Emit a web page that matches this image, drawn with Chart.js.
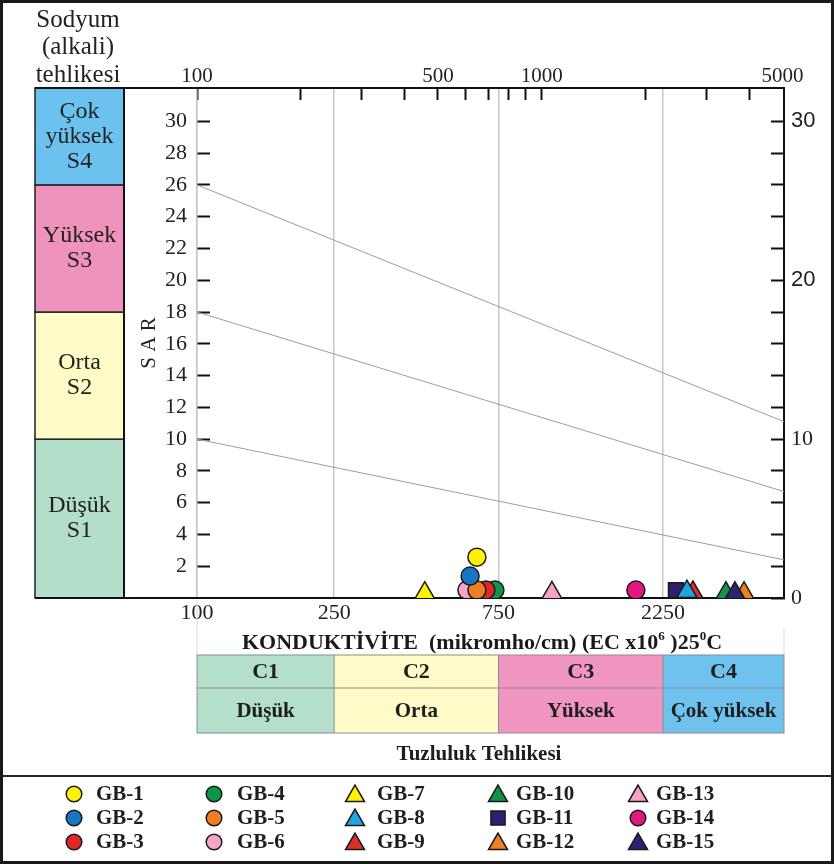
<!DOCTYPE html>
<html><head><meta charset="utf-8">
<script src="https://cdn.jsdelivr.net/npm/chart.js@4.4.1/dist/chart.umd.min.js"></script>
<style>html,body{margin:0;padding:0;background:#fff}canvas{display:block}</style>
</head><body>
<canvas id="c" width="834" height="864"></canvas>
<script>
// ---------------- data ----------------
const SAMPLES = ['GB-1','GB-2','GB-3','GB-4','GB-5','GB-6','GB-7','GB-8','GB-9','GB-10','GB-11','GB-12','GB-13','GB-14','GB-15'];
const EC  = [649, 620, 689, 732, 649, 607, 458, 2640, 2748, 3425, 2453, 3866, 1071, 1877, 3638];
const SAR = [2.57, 1.38, 0.5, 0.5, 0.5, 0.5, 0.3, 0.4, 0.35, 0.3, 0.5, 0.3, 0.32, 0.5, 0.3];

const BOUNDARY_EC = [100, 5050];
const BOUNDARY_S4_S3 = [26, 11.1];
const BOUNDARY_S3_S2 = [18, 6.7];
const BOUNDARY_S2_S1 = [10, 2.4];

const BOTTOM_TICKS = [100, 250, 750, 2250];
const TOP_TICKS = [100, 200, 300, 400, 500, 600, 700, 800, 900, 1000, 2000, 3000, 4000, 5000];
const TOP_LABELS = [100, 500, 1000, 5000];
const SAR_TICKS = [2, 4, 6, 8, 10, 12, 14, 16, 18, 20, 22, 24, 26, 28, 30];
const RIGHT_TICKS = [0, 2, 4, 6, 8, 10, 12, 14, 16, 18, 20, 22, 24, 26, 28, 30];
const RIGHT_LABELS = [0, 10, 20, 30];

const S_LIMITS = [0, 10, 18, 26, 32.1];
const S_TEXT = [['Düşük', 'S1'], ['Orta', 'S2'], ['Yüksek', 'S3'], ['Çok', 'yüksek', 'S4']];
const C_LIMITS = [100, 250, 750, 2250, 5050];
const C_CODES = ['C1', 'C2', 'C3', 'C4'];
const C_NAMES = ['Düşük', 'Orta', 'Yüksek', 'Çok yüksek'];
const X_TITLE = [['KONDUKTİVİTE  (mikromho/cm) (EC x10', false], ['6', true], [' )25', false], ['0', true], ['C', false]];

// ---------------- styles ----------------
const SERIF = '"Liberation Serif", "Times New Roman", Times, serif';
const SANS = '"Liberation Sans", Arial, Helvetica, sans-serif';
const MARKERS = ['circle','circle','circle','circle','circle','circle','triangle','triangle','triangle','triangle','rect','triangle','triangle','circle','triangle'];
const COLORS = ['#fff200','#1677c2','#e1262b','#0f9448','#ef7d22','#f5a5c8','#fff200','#22a4e0','#d8302b','#14924b','#2b2170','#ef7f23','#f3a3c5','#e2177f','#2b2373'];
const ORDERS = [0,0,1,1,0,0,0,0,0,0,0,0,0,0,-1];
const PLOT_RADIUS = {circle: 9, triangle: 11.5, rect: 10.5};
const LEGEND_RADIUS = {circle: 7.8, triangle: 11, rect: 10};
const S_COLORS = ['#b3dec9', '#fefbc6', '#ef93bd', '#6cc2ee'];
const C_COLORS = ['#b4dfca', '#fefbc8', '#f196c0', '#6fc2ee'];
const LAY = {
  W: 834, H: 864, sboxLeft: 35, frameLeft: 124,
  titleX: 482, titleY: 641,
  tableTop: 655, tableMid: 688, tableBottom: 733,
  hazardY: 755, sepY: 776,
  legendRows: [794, 818, 842], legendMarkX: [74, 214, 355, 498, 638], legendTextX: [96, 237, 377, 516, 656]
};

// ---------------- datasets ----------------
const datasets = [];
SAMPLES.forEach((name, i) => {
  datasets.push({
    label: name,
    data: [{x: EC[i], y: SAR[i]}],
    pointStyle: MARKERS[i],
    pointRadius: PLOT_RADIUS[MARKERS[i]],
    pointHoverRadius: PLOT_RADIUS[MARKERS[i]],
    backgroundColor: COLORS[i],
    borderColor: '#1a1a1a',
    borderWidth: 1.5,
    pointBorderWidth: 1.5,
    order: ORDERS[i],
    showLine: false
  });
});
[BOUNDARY_S4_S3, BOUNDARY_S3_S2, BOUNDARY_S2_S1].forEach((b, k) => {
  datasets.push({
    label: 'boundary' + k,
    data: BOUNDARY_EC.map((x, j) => ({x, y: b[j]})),
    showLine: true, pointRadius: 0, borderColor: '#9d9d9d', borderWidth: 1, order: 10, fill: false
  });
});

// ---------------- decoration plugin ----------------
function line(ctx, x1, y1, x2, y2) { ctx.beginPath(); ctx.moveTo(x1, y1); ctx.lineTo(x2, y2); ctx.stroke(); }

const decor = {
  id: 'decor',
  beforeDraw(chart) {
    const ctx = chart.ctx, ys = chart.scales.y;
    ctx.save();
    ctx.fillStyle = '#fff';
    ctx.fillRect(0, 0, LAY.W, LAY.H);
    for (let i = 0; i < 4; i++) {
      const yb = ys.getPixelForValue(S_LIMITS[i]);
      const yt = ys.getPixelForValue(S_LIMITS[i + 1]);
      ctx.fillStyle = S_COLORS[i];
      ctx.fillRect(LAY.sboxLeft, yt, LAY.frameLeft - LAY.sboxLeft, yb - yt);
      ctx.strokeStyle = '#222'; ctx.lineWidth = 1.5;
      ctx.strokeRect(LAY.sboxLeft, yt, LAY.frameLeft - LAY.sboxLeft, yb - yt);
      const lines = S_TEXT[i];
      const cx = (LAY.sboxLeft + LAY.frameLeft) / 2, cy = (yt + yb) / 2;
      ctx.fillStyle = '#222';
      ctx.font = '24px ' + SERIF;
      ctx.textAlign = 'center'; ctx.textBaseline = 'middle';
      const lh = 25;
      lines.forEach((t, j) => ctx.fillText(t, cx, cy + (j - (lines.length - 1) / 2) * lh));
    }
    ctx.restore();
  },
  beforeDatasetsDraw(chart) {
    const ctx = chart.ctx, a = chart.chartArea;
    ctx.save();
    ctx.strokeStyle = '#111'; ctx.lineWidth = 2;
    line(ctx, LAY.sboxLeft, a.top, a.right, a.top);
    line(ctx, LAY.sboxLeft, a.bottom, a.right, a.bottom);
    line(ctx, LAY.frameLeft, a.top, LAY.frameLeft, a.bottom);
    line(ctx, a.right, a.top, a.right, a.bottom);
    ctx.restore();
  },
  afterDraw(chart) {
    const ctx = chart.ctx, xs = chart.scales.x, a = chart.chartArea;
    ctx.save();
    ctx.fillStyle = '#222'; ctx.font = '25px ' + SERIF;
    ctx.textAlign = 'center'; ctx.textBaseline = 'middle';
    ['Sodyum', '(alkali)', 'tehlikesi'].forEach((t, j) => ctx.fillText(t, 78, 20 + j * 27.5));

    // x-axis title with superscripts
    const mainF = 'bold 22px ' + SERIF, supF = 'bold 13px ' + SERIF;
    let total = 0;
    X_TITLE.forEach(([t, sup]) => { ctx.font = sup ? supF : mainF; total += ctx.measureText(t).width; });
    let tx = LAY.titleX - total / 2;
    ctx.textAlign = 'left'; ctx.textBaseline = 'alphabetic'; ctx.fillStyle = '#1a1a1a';
    X_TITLE.forEach(([t, sup]) => {
      ctx.font = sup ? supF : mainF;
      ctx.fillText(t, tx, LAY.titleY + (sup ? -1 : 8));
      tx += ctx.measureText(t).width;
    });

    // salinity table
    const e = C_LIMITS.map(v => xs.getPixelForValue(v));
    ctx.strokeStyle = '#d9d9d9'; ctx.lineWidth = 1;
    line(ctx, e[0], a.bottom + 2, e[0], LAY.tableTop);
    line(ctx, e[4], a.bottom + 30, e[4], LAY.tableTop);
    for (let i = 0; i < 4; i++) {
      ctx.fillStyle = C_COLORS[i];
      ctx.fillRect(e[i], LAY.tableTop, e[i + 1] - e[i], LAY.tableBottom - LAY.tableTop);
    }
    ctx.strokeStyle = '#8c8c8c'; ctx.lineWidth = 1;
    ctx.strokeRect(e[0], LAY.tableTop, e[4] - e[0], LAY.tableBottom - LAY.tableTop);
    line(ctx, e[0], LAY.tableMid, e[4], LAY.tableMid);
    for (let i = 1; i < 4; i++) line(ctx, e[i], LAY.tableTop, e[i], LAY.tableBottom);
    ctx.fillStyle = '#1e1e1e'; ctx.textAlign = 'center'; ctx.textBaseline = 'middle';
    for (let i = 0; i < 4; i++) {
      const cx = (e[i] + e[i + 1]) / 2;
      ctx.font = 'bold 22px ' + SERIF;
      ctx.fillText(C_CODES[i], cx, (LAY.tableTop + LAY.tableMid) / 2 + 1);
      ctx.font = 'bold 21px ' + SERIF;
      ctx.fillText(C_NAMES[i], cx, (LAY.tableMid + LAY.tableBottom) / 2 + 1);
    }
    ctx.font = 'bold 21px ' + SERIF;
    ctx.fillText('Tuzluluk Tehlikesi', 479, LAY.hazardY);

    ctx.strokeStyle = '#2a2a2a'; ctx.lineWidth = 2;
    line(ctx, 0, LAY.sepY, LAY.W, LAY.sepY);

    // legend (column-major, 3 rows x 5 columns)
    const dss = chart.data.datasets;
    SAMPLES.forEach((name, i) => {
      const col = Math.floor(i / 3), row = i % 3;
      const x = LAY.legendMarkX[col], y = LAY.legendRows[row];
      const ds = dss[i];
      ctx.fillStyle = ds.backgroundColor; ctx.strokeStyle = '#1a1a1a'; ctx.lineWidth = 1.5;
      const st = ds.pointStyle;
      const opts = {pointStyle: st, radius: LEGEND_RADIUS[st], rotation: 0, borderWidth: 1.5};
      Chart.helpers.drawPoint(ctx, opts, x, st === 'triangle' ? y + 2 : y);
      ctx.fillStyle = '#1e1e1e'; ctx.font = 'bold 21px ' + SERIF;
      ctx.textAlign = 'left'; ctx.textBaseline = 'middle';
      ctx.fillText(name, LAY.legendTextX[col], y + 1);
    });

    ctx.strokeStyle = '#1a1a1a'; ctx.lineWidth = 3;
    ctx.strokeRect(1.5, 1.5, LAY.W - 3, LAY.H - 3);
    ctx.restore();
  }
};

// ---------------- chart ----------------
const tickFont = (size, fam) => ({family: fam || SERIF, size});
new Chart(document.getElementById('c'), {
  type: 'scatter',
  data: {datasets},
  plugins: [decor],
  options: {
    responsive: false, animation: false, devicePixelRatio: 1, events: [],
    layout: {padding: 0},
    plugins: {legend: {display: false}, tooltip: {enabled: false}},
    scales: {
      x: {
        type: 'logarithmic', position: 'bottom', min: 100, max: 5050,
        afterBuildTicks: s => { s.ticks = BOTTOM_TICKS.map(v => ({value: v})); },
        afterFit: s => { s.height = 266; },
        grid: {color: '#c8c8c8', lineWidth: 1.5, drawTicks: false},
        border: {color: '#111', width: 2},
        ticks: {callback: v => String(v), font: tickFont(22), color: '#222', padding: 2, autoSkip: false, maxRotation: 0}
      },
      x2: {
        type: 'logarithmic', position: 'top', min: 100, max: 5050,
        afterBuildTicks: s => { s.ticks = TOP_TICKS.map(v => ({value: v})); },
        afterFit: s => { s.height = 88; },
        grid: {drawOnChartArea: false, tickLength: -12, tickWidth: 2,
               tickColor: c => (c.tick && c.tick.value === 5000) ? 'rgba(0,0,0,0)' : '#111'},
        border: {color: '#111', width: 2},
        ticks: {callback: v => TOP_LABELS.includes(v) ? String(v) : '', font: tickFont(21), color: '#222', padding: 11, autoSkip: false, maxRotation: 0}
      },
      y: {
        type: 'linear', position: 'left', min: 0, max: 32.1,
        afterBuildTicks: s => { s.ticks = SAR_TICKS.map(v => ({value: v})); },
        afterFit: s => { s.width = 197; },
        grid: {drawOnChartArea: false, tickLength: -13, tickWidth: 2, tickColor: '#111'},
        border: {color: '#c8c8c8', width: 1.5},
        ticks: {font: tickFont(22), color: '#222', padding: 23, autoSkip: false},
        title: {display: true, text: 'S A R', color: '#222', font: {family: SERIF, size: 21}, padding: {top: 137, bottom: 0}}
      },
      y2: {
        type: 'linear', position: 'right', min: 0, max: 32.1,
        afterBuildTicks: s => { s.ticks = RIGHT_TICKS.map(v => ({value: v})); },
        afterFit: s => { s.width = 50; },
        grid: {drawOnChartArea: false, tickLength: -13, tickWidth: 2, tickColor: '#111'},
        border: {color: '#111', width: 2},
        ticks: {callback: v => RIGHT_LABELS.includes(v) ? String(v) : '', color: '#222', padding: 20, autoSkip: false,
                font: c => (c.tick && c.tick.value >= 20) ? tickFont(22, SANS) : tickFont(22)}
      }
    }
  }
});
</script>
</body></html>
